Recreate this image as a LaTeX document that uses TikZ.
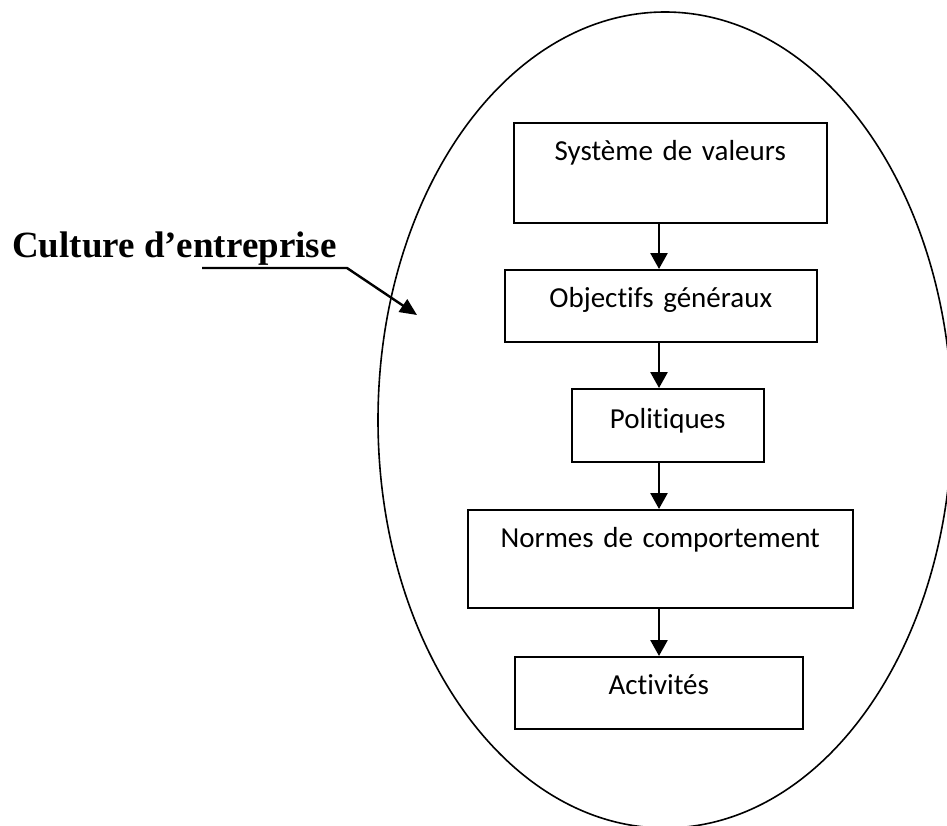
\documentclass[tikz,border=0pt]{standalone}
\usepackage{fontspec}
\setmainfont{Liberation Serif}
\newfontfamily\boxfont[Ligatures=NoCommon]{Carlito}
\usetikzlibrary{arrows.meta,shapes.geometric}

\begin{document}
\begin{tikzpicture}[x=1pt,y=-1pt,
  stepbox/.style={draw, line width=1.5pt, rectangle, inner sep=0pt, align=center,
    anchor=north west, font=\boxfont\fontsize{29}{34}\selectfont},
  flow/.style={line width=2.6pt, -{Triangle[length=16pt,width=17pt]}},
  pointer/.style={line width=2.4pt, -{Triangle[length=17pt,width=15pt]}}]
  \useasboundingbox (0,0) rectangle (947,825);

  % enclosing ellipse
  \node[ellipse, draw, line width=1.6pt, minimum width=574pt, minimum height=816pt,
        inner sep=0pt] (culture) at (665,420) {};

  % chain of boxes
  \node[stepbox, text width=313pt, text height=38pt, text depth=62pt] (valeurs) at (513,122) {Système de valeurs};
  \node[stepbox, text width=312pt, text height=38pt, text depth=34pt] (objectifs) at (504,269) {Objectifs généraux};
  \node[stepbox, text width=192pt, text height=40pt, text depth=33pt] (politiques) at (571,388) {Politiques};
  \node[stepbox, text width=385pt, text height=38pt, text depth=60pt] (normes) at (467,509) {Normes de comportement};
  \node[stepbox, text width=288pt, text height=38pt, text depth=34pt] (activites) at (514,656) {Activités};

  % vertical axis of the arrows
  \coordinate (ax) at (659,0);
  \draw[flow] (valeurs.south -| ax) -- (objectifs.north -| ax);
  \draw[flow] (objectifs.south -| ax) -- (politiques.north -| ax);
  \draw[flow] (politiques.south -| ax) -- (normes.north -| ax);
  \draw[flow] (normes.south -| ax) -- (activites.north -| ax);

  % title with its pointer
  \node[anchor=base west, inner sep=0pt, font=\bfseries\fontsize{37}{44}\selectfont] (titre) at (12,257) {Culture d’entreprise};
  \coordinate (u0) at (202,268);
  \coordinate (u1) at (347,268);
  \coordinate (tip) at (417,315);
  \draw[pointer] (u0) -- (u1) -- (tip);
\end{tikzpicture}
\end{document}
